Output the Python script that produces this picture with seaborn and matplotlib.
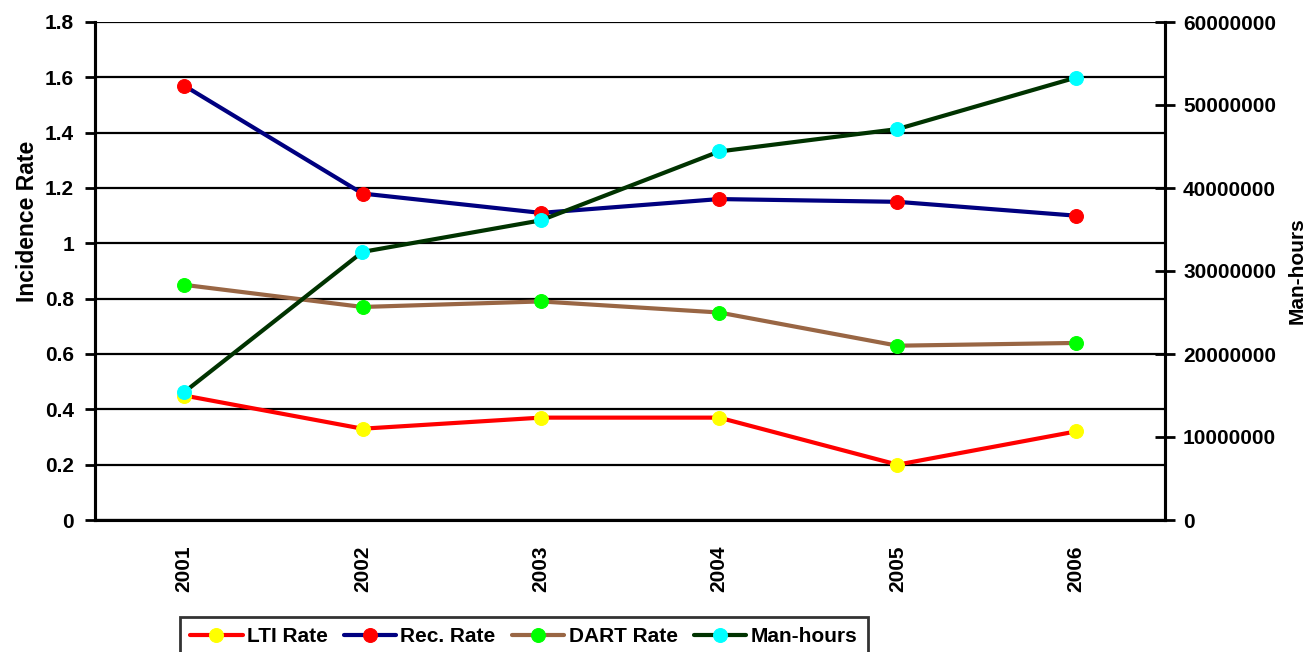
import numpy as np
import pandas as pd
import matplotlib
matplotlib.use('Agg')
import matplotlib.pyplot as plt
import seaborn as sns
from matplotlib.ticker import MultipleLocator, FuncFormatter

years = ['2001', '2002', '2003', '2004', '2005', '2006']
lti_rate = [0.45, 0.33, 0.37, 0.37, 0.20, 0.32]
rec_rate = [1.57, 1.18, 1.11, 1.16, 1.15, 1.10]
dart_rate = [0.85, 0.77, 0.79, 0.75, 0.63, 0.64]
man_hours = [15400000, 32300000, 36100000, 44400000, 47100000, 53300000]

rates = pd.DataFrame({'Year': years, 'LTI Rate': lti_rate,
                      'Rec. Rate': rec_rate, 'DART Rate': dart_rate})
hours = pd.DataFrame({'Year': years, 'Man-hours': man_hours})

sns.set_style('white')
plt.rcParams['font.family'] = ['Liberation Sans', 'DejaVu Sans']
plt.rcParams['font.weight'] = 'bold'
for k in ['text.color', 'axes.labelcolor', 'xtick.color', 'ytick.color']:
    plt.rcParams[k] = 'black'

fig = plt.figure(figsize=(13.07, 6.52), dpi=100)
ax = fig.add_axes([95 / 1307, 1 - 520 / 652, 1070 / 1307, 498 / 652])

# (line colour, marker colour)
styles = {
    'LTI Rate': ('#ff0000', '#ffff00'),
    'Rec. Rate': ('#000080', '#ff0000'),
    'DART Rate': ('#996644', '#00ff00'),
    'Man-hours': ('#003300', '#00ffff'),
}

for name in ['LTI Rate', 'Rec. Rate', 'DART Rate']:
    line_c, mark_c = styles[name]
    sns.lineplot(data=rates, x='Year', y=name, ax=ax, color=line_c, lw=3,
                 marker='o', markersize=10, markerfacecolor=mark_c,
                 markeredgecolor=mark_c, label=name, legend=False)

ax2 = ax.twinx()
line_c, mark_c = styles['Man-hours']
sns.lineplot(data=hours, x='Year', y='Man-hours', ax=ax2, color=line_c, lw=3,
             marker='o', markersize=10, markerfacecolor=mark_c,
             markeredgecolor=mark_c, label='Man-hours', legend=False)

for a in (ax, ax2):
    if a.get_legend() is not None:
        a.get_legend().remove()

ax.set_xlim(-0.5, 5.5)
ax.set_ylim(0, 1.8)
ax2.set_ylim(0, 60000000)
ax.yaxis.set_major_locator(MultipleLocator(0.2))
ax.yaxis.set_major_formatter(FuncFormatter(lambda v, p: f'{v:g}'))
ax2.yaxis.set_major_locator(MultipleLocator(10000000))
ax2.yaxis.set_major_formatter(FuncFormatter(lambda v, p: f'{int(v)}'))

ax.grid(axis='y', color='black', lw=1.6)
ax.grid(axis='x', visible=False)
ax.set_axisbelow(True)

ax.spines['top'].set_visible(False)
ax2.spines['top'].set_visible(False)
for a in (ax, ax2):
    for s in ['left', 'right', 'bottom']:
        a.spines[s].set_color('black')
        a.spines[s].set_linewidth(2.2)

# year labels at centres, tick marks between categories
ax.set_xticks(range(len(years)))
ax.set_xticklabels(years, rotation=90, fontsize=15, fontweight='bold')
ax.set_xticks(np.arange(-0.5, len(years), 1), minor=True)
ax.tick_params(axis='x', which='major', length=0, pad=18)
ax.tick_params(axis='x', which='minor', direction='inout', length=14, width=2, color='black')

ax.tick_params(axis='y', direction='out', length=7, width=2, color='black',
               labelsize=15, pad=8, left=True)
ax2.tick_params(axis='y', direction='inout', length=14, width=2, color='black',
                labelsize=15, pad=6, right=True)

ax.set_xlabel('')
ax.set_ylabel('Incidence Rate', fontsize=16.5, fontweight='bold')
ax.yaxis.set_label_coords(-0.052, 0.6)
ax2.set_ylabel('Man-hours', fontsize=15, fontweight='bold')
ax2.yaxis.set_label_coords(1.115, 0.5)

h1, l1 = ax.get_legend_handles_labels()
h2, l2 = ax2.get_legend_handles_labels()
leg = fig.legend(h1 + h2, l1 + l2, loc='upper left', bbox_to_anchor=(180 / 1307, 1 - 617 / 652),
                 ncol=4, frameon=True, fancybox=False, edgecolor='black',
                 prop={'size': 15, 'weight': 'bold'}, handlelength=2.5,
                 handletextpad=0.2, columnspacing=0.8, borderpad=0.5,
                 borderaxespad=0)
leg.get_frame().set_linewidth(2)

fig.savefig('out.png', dpi=100)
